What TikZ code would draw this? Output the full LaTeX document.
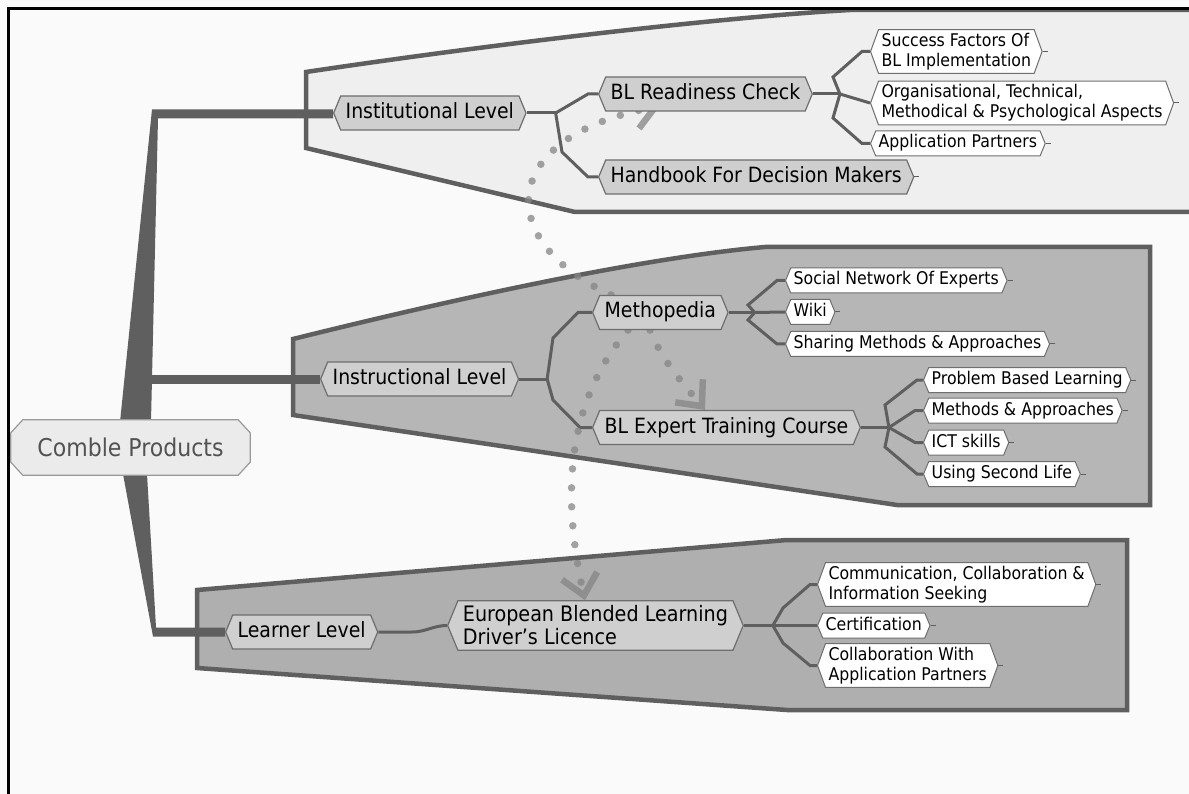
\documentclass[tikz,border=0pt]{standalone}
\usepackage{fontspec}
\setmainfont{DejaVu Sans Condensed}
\usetikzlibrary{shapes.symbols,arrows.meta,backgrounds}

\definecolor{pagebg}{HTML}{FAFAFA}
\definecolor{branchc}{HTML}{5F5F5F}
\definecolor{instfill}{HTML}{EFEFEF}
\definecolor{instrfill}{HTML}{B6B6B6}
\definecolor{learnfill}{HTML}{AFAFAF}
\definecolor{topicfill}{HTML}{CFCFCF}
\definecolor{topicline}{HTML}{6E6E6E}
\definecolor{dotc}{HTML}{858585}

\tikzset{
  rootbox/.style={rectangle, text=black!68, minimum width=239, minimum height=55, font=\fontsize{24.5}{26}\selectfont},
  rootline/.style={draw=black!40, line width=1.2, fill=black!8},
  topic/.style={signal, signal to=west and east, signal pointer angle=135, draw=topicline, line width=1.2, fill=topicfill, font=\fontsize{21}{23}\selectfont, inner xsep=5, inner ysep=7, text height=15.5, text depth=4.5},
  topic2/.style={signal, signal to=west and east, signal pointer angle=135, draw=topicline, line width=1.2, fill=topicfill, font=\fontsize{21.3}{23}\selectfont, inner xsep=5, inner ysep=5, align=left},
  leaf/.style={signal, signal to=west and east, signal pointer angle=135, draw=topicline, line width=1, fill=white, font=\fontsize{17.5}{20}\selectfont, inner xsep=3, inner ysep=4.5, text height=12.5, text depth=3.5},
  leaf2/.style={signal, signal to=west and east, signal pointer angle=140, draw=topicline, line width=1, fill=white, font=\fontsize{17.5}{20}\selectfont, inner xsep=3, inner ysep=3.5, align=left},
  border/.style={draw=branchc, line width=4.5},
  link/.style={draw=branchc, line width=3},
  stubl/.style={draw=branchc, line width=1},
  rel/.style={draw=dotc, opacity=.75, line width=7.5, line cap=round, dash pattern=on 0pt off 19pt, -{Straight Barb[length=20,width=36,line width=6.5]}}
}

\begin{document}
\begin{tikzpicture}[x=1pt,y=-1pt]
\useasboundingbox (0,0) rectangle (1189,794);

% topics
\node[rootbox] (root) at (130.5,447.5) {Comble Products};
\node[topic, anchor=west] (inst) at (333,113) {Institutional Level};
\node[topic, anchor=west] (rdy) at (598,94) {BL Readiness Check};
\node[topic, anchor=west] (hand) at (598,177) {Handbook For Decision Makers};
\node[leaf2, anchor=west] (succ) at (870,51.5) {Success Factors Of\\BL Implementation};
\node[leaf2, anchor=west] (org) at (870,103) {Organisational, Technical,\\Methodical \& Psychological Aspects};
\node[leaf, anchor=west] (appl) at (870,143.5) {Application Partners};

\node[topic, anchor=west] (instr) at (320,379) {Instructional Level};
\node[topic, anchor=west] (meth) at (592,312.5) {Methopedia};
\node[leaf, anchor=west] (soc) at (785,280.5) {Social Network Of Experts};
\node[leaf, anchor=west] (wiki) at (785,312) {Wiki};
\node[leaf, anchor=west] (shar) at (785,344) {Sharing Methods \& Approaches};
\node[topic, anchor=west] (exp) at (592,427.5) {BL Expert Training Course};
\node[leaf, anchor=west] (prob) at (923,380) {Problem Based Learning};
\node[leaf, anchor=west] (mapp) at (923,410.5) {Methods \& Approaches};
\node[leaf, anchor=west] (ict) at (923,442.5) {ICT skills};
\node[leaf, anchor=west] (sec) at (923,474) {Using Second Life};

\node[topic, anchor=west] (learn) at (225,632) {Learner Level};
\node[topic2, anchor=west] (ebl) at (447,625.5) {European Blended Learning\\Driver's Licence};
\node[leaf2, anchor=west] (comm) at (817,584.5) {Communication, Collaboration \&\\Information Seeking};
\node[leaf, anchor=west] (cert) at (817,625.5) {Certification};
\node[leaf2, anchor=west] (coll) at (817,665.5) {Collaboration With\\Application Partners};

\begin{pgfonlayer}{background}
\fill[pagebg] (0,0) rectangle (1189,794);
% boundaries
\filldraw[border, fill=instfill] (306,72) .. controls (520,40) and (740,16) .. (850,10) -- (1195,10) -- (1195,212) -- (575,212) -- (306,148) -- cycle;
\filldraw[border, fill=instrfill] (293,339) .. controls (450,300) and (640,258) .. (765,247) -- (1150,247) -- (1150,505) -- (897,505) -- (293,415) -- cycle;
\filldraw[border, fill=learnfill] (197,590) -- (787,540) -- (1127,540) -- (1127,710) -- (787,710) -- (197,668) -- cycle;

% main branches
\fill[branchc] (120,422) -- (152,109.5) -- (inst.west |- 0,109.5) -- (inst.west |- 0,118.5) -- (158,118.5) -- (151,422) -- cycle;
\draw[branchc, line width=9] (150,379) -- (instr.west);
\fill[branchc] (123,474) -- (147,474) -- (156,627.5) -- (learn.west |- 0,627.5) -- (learn.west |- 0,636.5) -- (153,636.5) -- cycle;

% central topic outline
\filldraw[rootline] ([xshift=12]root.north west) -- ([xshift=-12]root.north east) -- ([yshift=-13]root.north east) -- ([yshift=13]root.south east) -- ([xshift=-12]root.south east) -- ([xshift=12]root.south west) -- ([yshift=13]root.south west) -- ([yshift=-13]root.north west) -- cycle;

% subtopic links
\draw[link] (inst.east) -- ++(29,0) coordinate (ik);
\draw[link] (ik) -- (588,94) -- (rdy.west);
\draw[link] (ik) -- (562,152) -- (588,177) -- (hand.west);
\draw[link] (rdy.east) -- ++(27,0) coordinate (rk);
\draw[link] (rk) -- (833,77) -- (862,51.5) -- (succ.west);
\draw[link] (rk) -- (org.west);
\draw[link] (rk) -- (833,118) -- (862,143.5) -- (appl.west);

\draw[link] (instr.east) -- ++(28,0) coordinate (nk);
\draw[link] (nk) -- (553,338) -- (578,312.5) -- (meth.west);
\draw[link] (nk) -- (553,400) -- (580,427.5) -- (exp.west);
\draw[link] (meth.east) -- ++(26,0) coordinate (mk);
\draw[link] (mk) -- (748,305) -- (777,280.5) -- (soc.west);
\draw[link] (mk) -- (wiki.west);
\draw[link] (mk) -- (748,320) -- (777,344) -- (shar.west);
\draw[link] (exp.east) -- ++(28,0) coordinate (ek);
\draw[link] (ek) -- (885,405) -- (917,380) -- (prob.west);
\draw[link] (ek) -- (915,410.5) -- (mapp.west);
\draw[link] (ek) -- (915,442.5) -- (ict.west);
\draw[link] (ek) -- (885,447) -- (917,474) -- (sec.west);

\draw[link] (learn.east) -- (412,632) to[out=0,in=180] (ebl.west);
\draw[link] (ebl.east) -- ++(29,0) coordinate (bk);
\draw[link] (bk) -- (783,608) -- (810,584.5) -- (comm.west);
\draw[link] (bk) -- (cert.west);
\draw[link] (bk) -- (783,643) -- (810,665.5) -- (coll.west);

\foreach \n in {hand,succ,org,appl,soc,wiki,shar,prob,mapp,ict,sec,comm,cert,coll}
  \draw[stubl] (\n.east) -- ++(5,0);

% relationships
\draw[rel] (meth.north -| 611,0) .. controls (495,242) and (495,138) .. (660,106);
\draw[rel] (meth.south -| 628,0) .. controls (560,410) and (565,510) .. (ebl.north -| 585,0);
\draw[rel] (meth.south -| 650,0) .. controls (662,360) and (680,380) .. (exp.north -| 705,0);
\end{pgfonlayer}

% frame
\draw[line width=2.5] (8.5,794) -- (8.5,8.5) -- (1189,8.5);
\end{tikzpicture}
\end{document}
